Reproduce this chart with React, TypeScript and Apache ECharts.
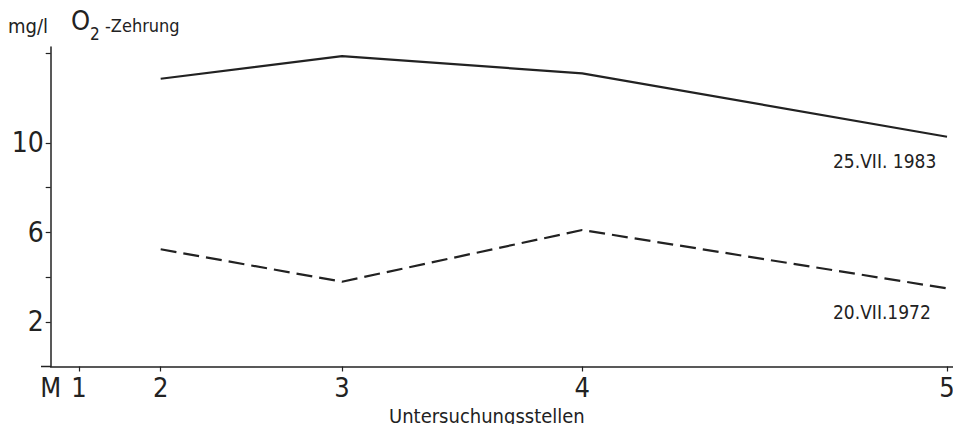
import React, { useEffect, useRef } from "react";
import * as echarts from "echarts";

// Station names and their position along the river (relative units, M = 0)
const stationNames = ["M", "1", "2", "3", "4", "5"];
const stationPos = [0, 3.16, 12.27, 32.5, 59.3, 100];

// Measured stations (2..5)
const measuredPos = [12.27, 32.5, 59.3, 100];
const series1983 = [12.86, 13.87, 13.1, 10.27];
const series1972 = [5.24, 3.79, 6.1, 3.49];

const yLabelValues = [2, 6, 10];
const yTickValues = [2, 4, 6, 8, 10, 14];

const FONT = "'Liberation Sans Narrow', 'DejaVu Sans Condensed', 'Liberation Sans', sans-serif";
const INK = "#222";

export default function App() {
  const ref = useRef<HTMLDivElement>(null);
  useEffect(() => {
    if (!ref.current) return;
    const chart = echarts.init(ref.current, undefined, { renderer: "svg" });
    const nameOf = (v: number) => {
      const i = stationPos.findIndex((p) => Math.abs(p - v) < 1e-6);
      return i >= 0 ? stationNames[i] : "";
    };
    chart.setOption({
      animation: false,
      backgroundColor: "#fff",
      grid: { left: 50.7, right: 0, top: 47, bottom: 65.5, containLabel: false },
      xAxis: {
        type: "value",
        min: 0,
        max: 101.56,
        splitLine: { show: false },
        axisLine: { show: true, lineStyle: { color: INK, width: 1.5 } },
        axisTick: {
          show: true,
          length: 5,
          customValues: stationPos.slice(1),
          lineStyle: { color: INK, width: 1.2 },
        },
        axisLabel: {
          customValues: stationPos,
          formatter: (v: number) => nameOf(v),
          fontFamily: FONT,
          fontSize: 27,
          color: INK,
          margin: 7,
          showMinLabel: true,
          showMaxLabel: true,
        },
      },
      yAxis: {
        type: "value",
        min: 0,
        max: 14.28,
        splitLine: { show: false },
        axisLine: { show: true, lineStyle: { color: INK, width: 1.5 } },
        axisTick: {
          show: true,
          length: 5,
          customValues: yTickValues,
          lineStyle: { color: INK, width: 1.2 },
        },
        axisLabel: {
          customValues: yLabelValues,
          fontFamily: FONT,
          fontSize: 28,
          color: INK,
          margin: 7,
        },
      },
      graphic: [
        {
          type: "line",
          shape: { x1: 41, y1: 366.5, x2: 51, y2: 366.5 },
          style: { stroke: INK, lineWidth: 1.5 },
        },
        {
          type: "text",
          left: 8,
          top: 16,
          style: {
            text: "mg/l",
            fontFamily: FONT,
            fontSize: 20,
            fill: INK,
          },
        },
        {
          type: "text",
          left: 71,
          top: 7,
          style: {
            text: "{big|O}{sub|2}{mid| -Zehrung}",
            fill: INK,
            rich: {
              big: { fontFamily: FONT, fontSize: 27, fill: INK, verticalAlign: "bottom" },
              sub: { fontFamily: FONT, fontSize: 17, fill: INK, verticalAlign: "bottom", padding: [0, 0, -8, 0] },
              mid: { fontFamily: FONT, fontSize: 18, fill: INK, verticalAlign: "bottom" },
            },
          },
        },
        {
          type: "text",
          left: 833,
          top: 151,
          style: { text: "25.VII. 1983", fontFamily: FONT, fontSize: 19, fill: INK },
        },
        {
          type: "text",
          left: 833,
          top: 302,
          style: { text: "20.VII.1972", fontFamily: FONT, fontSize: 19, fill: INK },
        },
        {
          type: "text",
          left: 389,
          top: 406,
          style: {
            text: "Untersuchungsstellen",
            fontFamily: FONT,
            fontSize: 20,
            fill: INK,
          },
        },
      ],
      series: [
        {
          name: "25.VII.1983",
          type: "line",
          data: measuredPos.map((x, i) => [x, series1983[i]]),
          symbol: "none",
          lineStyle: { color: INK, width: 2.2 },
        },
        {
          name: "20.VII.1972",
          type: "line",
          data: measuredPos.map((x, i) => [x, series1972[i]]),
          symbol: "none",
          lineStyle: { color: INK, width: 2.2, type: [16, 7] },
        },
      ],
    });
    return () => chart.dispose();
  }, []);
  return <div ref={ref} style={{ width: 961, height: 432, margin: -8 }} />;
}
